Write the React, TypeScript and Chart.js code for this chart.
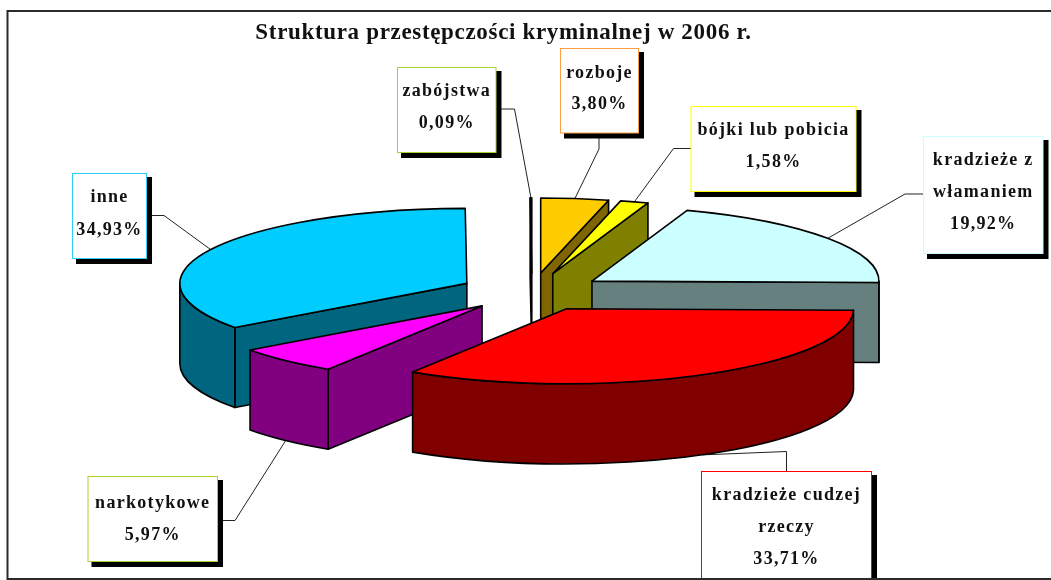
import React, { useEffect, useRef } from "react";
import { Chart, registerables } from "chart.js";

Chart.register(...registerables);

const categories = [
  "rozboje",
  "bójki lub pobicia",
  "kradzieże z\nwłamaniem",
  "kradzieże cudzej\nrzeczy",
  "narkotykowe",
  "inne",
  "zabójstwa",
];
const values = [3.8, 1.58, 19.92, 33.71, 5.97, 34.93, 0.09];
const topColors = ["#FFCC00", "#FFFF00", "#CCFFFF", "#FF0000", "#FF00FF", "#00CCFF", "#99CC00"];
const sideColors = ["#806600", "#808000", "#668080", "#800000", "#800080", "#006680", "#4D6600"];
const boxBorders = ["#FFA040", "#FFFF00", "#CCFFFF", "#FF0000", "#A8D030", "#33CCFF", "#A8D030"];
const titleText = "Struktura przestępczości kryminalnej w 2006 r.";

// Painter's order: back to front
const drawOrder = [6, 0, 1, 2, 5, 4, 3];

// 3D view of the pie
const VIEW = { cx: 532, cy: 292, rx: 287, ry: 75, depth: 80, explode: 73 };

// Label boxes: [left, top, right, bottom], text baselines, leader elbow points
const labelLayout = [
  { box: [560.5, 48.5, 638.5, 133], base: [77.5, 108.5], from: [599, 133], elbow: [599, 149] },
  { box: [691, 106.5, 856, 191.5], base: [135, 166.5], from: [691, 148.5], elbow: [673.5, 148.5] },
  { box: [923.5, 136.5, 1043, 253.5], base: [165, 197, 228.5], from: [923.5, 194], elbow: [905, 194] },
  { box: [701.5, 471.5, 871.5, 600], base: [500, 531.5, 564], from: [786.5, 471.5], elbow: [786.5, 451.5] },
  { box: [88, 476.5, 217.5, 561.5], base: [507.5, 539.5], from: [217.5, 520.5], elbow: [235, 520.5] },
  { box: [72.5, 173.5, 146.5, 258.5], base: [202, 234.5], from: [146.5, 215.5], elbow: [164, 215.5] },
  { box: [397.5, 67.5, 496, 152.5], base: [96, 128], from: [496, 109], elbow: [514.5, 109] },
];
const SHADOW = { dx: 5.5, dy: 5.5, inset: 3.5 };
const LABEL_FONT = 'bold 18px "Liberation Serif"';
const LABEL_SPACING = "1.3px";
const fmt = (v: number) => v.toFixed(2).replace(".", ",") + "%";

const pie3d = {
  id: "pie3d",
  beforeDraw(chart: any) {
    const c = chart.ctx;
    c.save();
    c.fillStyle = "#FFFFFF";
    c.fillRect(0, 0, chart.width, chart.height);
    c.strokeStyle = "#2A2A2A";
    c.lineWidth = 2;
    c.beginPath();
    c.moveTo(chart.width, 11);
    c.lineTo(7.5, 11);
    c.lineTo(7.5, 579);
    c.lineTo(chart.width, 579);
    c.stroke();
    c.restore();
    (c as any).letterSpacing = "0.67px";
  },
  beforeDatasetsDraw(chart: any) {
    const c = chart.ctx;
    (c as any).letterSpacing = "0px";
    const arcs = chart.getDatasetMeta(0).data;
    const { cx, cy, rx, ry, depth, explode } = VIEW;
    const geo = arcs.map((a: any) => {
      const mid = (a.startAngle + a.endAngle) / 2;
      const ax = cx + Math.cos(mid) * explode;
      const ay = cy + Math.sin(mid) * explode * (ry / rx);
      return { a, mid, ax, ay };
    });
    const rim = (g: any, t: number, d = 0) => [g.ax + rx * Math.cos(t), g.ay + ry * Math.sin(t) + d];

    // leader lines, underneath everything
    c.save();
    c.strokeStyle = "#222222";
    c.lineWidth = 1;
    geo.forEach((g: any, i: number) => {
      const L = labelLayout[i];
      const front = Math.sin(g.mid) > 0.3;
      const p = rim(g, g.mid, front ? depth : 0);
      c.beginPath();
      c.moveTo(L.from[0], L.from[1]);
      c.lineTo(L.elbow[0], L.elbow[1]);
      c.lineTo(p[0], p[1]);
      c.stroke();
    });
    c.restore();

    // slices
    drawOrder.forEach((i) => {
      const g = geo[i];
      const a = g.a;
      c.save();
      c.lineWidth = 1.6;
      c.strokeStyle = "#000000";
      c.lineJoin = "round";
      c.fillStyle = sideColors[i];
      const cut = (t: number) => {
        const r0 = rim(g, t);
        const r1 = rim(g, t, depth);
        c.beginPath();
        c.moveTo(g.ax, g.ay);
        c.lineTo(r0[0], r0[1]);
        c.lineTo(r1[0], r1[1]);
        c.lineTo(g.ax, g.ay + depth);
        c.closePath();
        c.fill();
        c.stroke();
      };
      if (Math.cos(a.startAngle) < 0) cut(a.startAngle);
      if (Math.cos(a.endAngle) > 0) cut(a.endAngle);
      const w0 = Math.max(a.startAngle, 0);
      const w1 = Math.min(a.endAngle, Math.PI);
      if (w1 > w0) {
        c.beginPath();
        c.ellipse(g.ax, g.ay, rx, ry, 0, w0, w1);
        c.ellipse(g.ax, g.ay + depth, rx, ry, 0, w1, w0, true);
        c.closePath();
        c.fill();
        c.stroke();
      }
      // top face: the library's own arc element, squashed into place
      const R = a.outerRadius;
      c.save();
      c.translate(g.ax, g.ay);
      c.scale(rx / R, ry / R);
      c.translate(-a.x, -a.y);
      a.draw(c);
      c.restore();
      c.beginPath();
      c.moveTo(g.ax, g.ay);
      c.ellipse(g.ax, g.ay, rx, ry, 0, a.startAngle, a.endAngle);
      c.closePath();
      c.stroke();
      c.restore();
    });

    // label boxes
    c.save();
    categories.forEach((name, i) => {
      const L = labelLayout[i];
      const [l, t, r, b] = L.box;
      c.fillStyle = "#000000";
      c.fillRect(l + SHADOW.inset, t + SHADOW.inset, r - l + SHADOW.dx - SHADOW.inset, b - t + SHADOW.dy - SHADOW.inset);
      c.fillStyle = "#FFFFFF";
      c.fillRect(l, t, r - l, b - t);
      c.strokeStyle = boxBorders[i];
      c.lineWidth = 1;
      c.strokeRect(l, t, r - l, b - t);
      c.fillStyle = "#111111";
      c.font = LABEL_FONT;
      (c as any).letterSpacing = LABEL_SPACING;
      c.textAlign = "center";
      c.textBaseline = "alphabetic";
      const lines = [...name.split("\n"), fmt(values[i])];
      lines.forEach((s, k) => c.fillText(s, (l + r) / 2, L.base[k]));
    });
    (c as any).letterSpacing = "0px";
    c.restore();

    // bottom frame line runs over the clipped box
    c.save();
    c.strokeStyle = "#2A2A2A";
    c.lineWidth = 2;
    c.beginPath();
    c.moveTo(7.5, 579);
    c.lineTo(chart.width, 579);
    c.stroke();
    c.restore();
    return false;
  },
};

export default function App() {
  const ref = useRef<HTMLCanvasElement>(null);
  useEffect(() => {
    const chart = new Chart(ref.current as HTMLCanvasElement, {
      type: "pie",
      data: {
        labels: categories.map((s) => s.replace("\n", " ")),
        datasets: [{ data: values, backgroundColor: topColors, borderWidth: 0 }],
      },
      options: {
        responsive: false,
        animation: false,
        devicePixelRatio: 1,
        events: [],
        layout: { padding: { left: 0, right: 44, top: 0, bottom: 0 } },
        plugins: {
          legend: { display: false },
          tooltip: { enabled: false },
          title: {
            display: true,
            text: titleText,
            color: "#111111",
            font: { family: '"Liberation Serif"', size: 23, weight: "bold" },
            padding: { top: 19, bottom: 4 },
          },
        },
      } as any,
      plugins: [pie3d as any],
    });
    return () => chart.destroy();
  }, []);
  return (
    <div style={{ position: "absolute", left: 0, top: 0, width: 1051, height: 580, overflow: "hidden" }}>
      <canvas ref={ref} width={1051} height={580} style={{ display: "block" }} />
    </div>
  );
}
